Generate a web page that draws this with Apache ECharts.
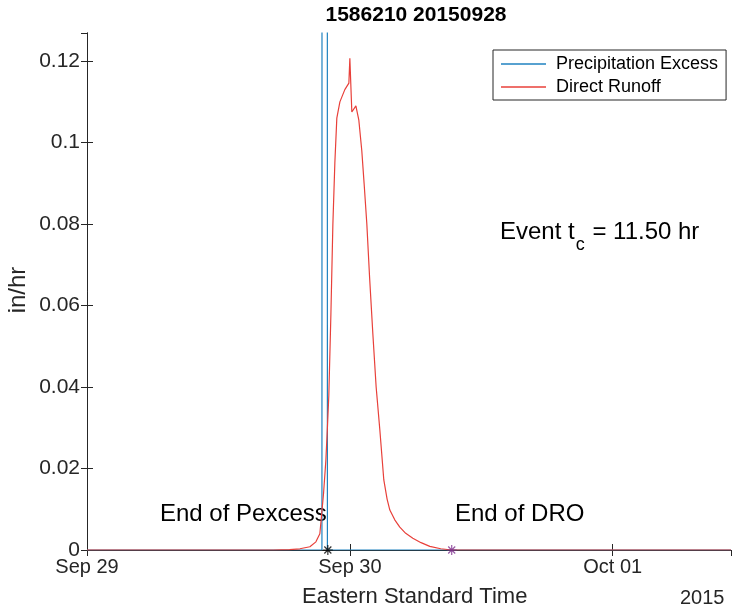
<!DOCTYPE html>
<html>
<head>
<meta charset="utf-8">
<script src="https://cdn.jsdelivr.net/npm/echarts@6/dist/echarts.min.js"></script>
<style>
  html, body { margin: 0; padding: 0; background: #fff; }
  #chart { width: 744px; height: 615px; }
</style>
</head>
<body>
<div id="chart"></div>
<script>
// hours since Sep 29 00:00 (EST)
var dayLabels = ['Sep 29', 'Sep 30', 'Oct 01'];
var yTickLabels = ['0', '0.02', '0.04', '0.06', '0.08', '0.1', '0.12'];

var pexHours = [0, 21.45, 21.47, 21.93, 21.95, 58.8];
var pexValues = [0, 0, 0.45, 0.45, 0, 0];

var droHours = [0, 17.0, 18.5, 19.44, 20.35, 20.9, 21.26, 21.4, 21.6, 21.81, 21.95, 22.08, 22.27, 22.45,
    22.63, 22.81, 23.09, 23.54, 23.91, 24.0, 24.18, 24.55, 24.82, 25.09, 25.3, 25.55, 25.8, 26.1,
    26.4, 26.74, 27.1, 27.4, 27.65, 28.1, 28.56, 29.1, 29.75, 30.5, 31.3, 32.3, 33.3, 58.8];
var droValues = [0, 0, 0.0001, 0.0003, 0.0008, 0.002, 0.004, 0.008, 0.014, 0.022, 0.03, 0.038, 0.058, 0.08,
    0.095, 0.106, 0.11, 0.113, 0.1146, 0.1207, 0.1075, 0.109, 0.1055, 0.098, 0.09, 0.08, 0.067, 0.053,
    0.04, 0.0294, 0.0172, 0.0125, 0.0098, 0.0074, 0.0056, 0.0041, 0.0029, 0.0018, 0.0009, 0.0003, 0, 0];

var endPexcess = [21.99, 0];
var endDro = [33.3, 0];

var xMax = 58.8, yMax = 0.1269;
var font = 'Liberation Sans, Arial, sans-serif';
var ink = '#262626';

var zip = function(xs, ys) {
    var out = [];
    for (var i = 0; i < xs.length; i++) out.push([xs[i], ys[i]]);
    return out;
};

var measure = function(text, size) {
    var ctx = document.createElement('canvas').getContext('2d');
    ctx.font = size + 'px ' + font;
    return ctx.measureText(text).width;
};

var star = 'path://M5,0L5,10M0,5L10,5M1.5,1.5L8.5,8.5M8.5,1.5L1.5,8.5';

// Event t_c label pieces
var evX = 500, evY = 232, evSize = 24;
var w1 = measure('Event t', evSize);
var wc = measure('c', 18);

var myChart = echarts.init(document.getElementById('chart'));
var option = {
    backgroundColor: '#fff',
    animation: false,
    title: {
        text: '1586210 20150928',
        left: 411, top: 0, textAlign: 'center',
        textStyle: { fontFamily: font, fontSize: 21, fontWeight: 'bold', color: '#000' }
    },
    legend: {
        left: 493, top: 50, orient: 'vertical',
        padding: [4, 8, 3, 8], itemGap: 3,
        itemWidth: 45, itemHeight: 1.5, icon: 'rect',
        borderColor: ink, borderWidth: 1, backgroundColor: '#fff',
        textStyle: { fontFamily: font, fontSize: 18, color: '#000', lineHeight: 20, padding: [0, 0, 0, 5] },
        data: ['Precipitation Excess', 'Direct Runoff']
    },
    grid: { left: 87, right: 13, top: 33, bottom: 65, containLabel: false },
    xAxis: [{
        type: 'value', min: 0, max: xMax, interval: 24,
        axisLine: { show: true, lineStyle: { color: ink } },
        axisTick: { show: true, inside: true, length: 6, lineStyle: { color: ink } },
        splitLine: { show: false },
        axisLabel: {
            fontFamily: font, fontSize: 20, color: ink, margin: 7,
            showMaxLabel: false,
            formatter: function(v) { return dayLabels[Math.round(v / 24)] || ''; }
        }
    }, {
        type: 'value', position: 'top', min: 0, max: xMax, interval: 24,
        axisLine: { show: true, lineStyle: { color: ink } },
        axisTick: { show: true, inside: true, length: 6, lineStyle: { color: ink } },
        splitLine: { show: false }, axisLabel: { show: false }
    }],
    yAxis: [{
        type: 'value', min: 0, max: yMax, interval: 0.02,
        axisLine: { show: true, lineStyle: { color: ink } },
        axisTick: { show: true, inside: true, length: 6, lineStyle: { color: ink } },
        splitLine: { show: false },
        axisLabel: {
            fontFamily: font, fontSize: 21, color: ink, margin: 7,
            showMaxLabel: false,
            formatter: function(v) {
                var i = Math.round(v / 0.02);
                return Math.abs(v - i * 0.02) < 1e-6 ? (yTickLabels[i] || '') : '';
            }
        }
    }, {
        type: 'value', position: 'right', min: 0, max: yMax, interval: 0.02,
        axisLine: { show: true, lineStyle: { color: ink } },
        axisTick: { show: true, inside: true, length: 6, lineStyle: { color: ink } },
        splitLine: { show: false }, axisLabel: { show: false }
    }],
    graphic: [
        { type: 'text', left: 302, top: 586, style: { text: 'Eastern Standard Time', font: '22px ' + font, fill: ink } },
        { type: 'text', left: 680, top: 588, style: { text: '2015', font: '20px ' + font, fill: ink } },
        { type: 'text', x: 18, y: 290, rotation: Math.PI / 2,
          style: { text: 'in/hr', font: '24px ' + font, fill: ink, textAlign: 'center', textVerticalAlign: 'middle' } },
        { type: 'text', x: 160, y: 514, style: { text: 'End of Pexcess', font: '24px ' + font, fill: '#000', textVerticalAlign: 'middle' } },
        { type: 'text', x: 455, y: 514, style: { text: 'End of DRO', font: '24px ' + font, fill: '#000', textVerticalAlign: 'middle' } },
        { type: 'text', x: evX, y: evY, style: { text: 'Event t', font: evSize + 'px ' + font, fill: '#000', textVerticalAlign: 'middle' } },
        { type: 'text', x: evX + w1 + 1, y: evY + 13, style: { text: 'c', font: '18px ' + font, fill: '#000', textVerticalAlign: 'middle' } },
        { type: 'text', x: evX + w1 + wc + 2, y: evY, style: { text: ' = 11.50 hr', font: evSize + 'px ' + font, fill: '#000', textVerticalAlign: 'middle' } }
    ],
    series: [{
        name: 'Precipitation Excess', type: 'line',
        data: zip(pexHours, pexValues),
        symbol: 'none', clip: true, z: 2,
        itemStyle: { color: '#1f82c0' },
        lineStyle: { color: '#1f82c0', width: 1.2 }
    }, {
        name: 'Direct Runoff', type: 'line',
        data: zip(droHours, droValues),
        symbol: 'none', clip: true, z: 3,
        itemStyle: { color: '#e8403a' },
        lineStyle: { color: '#e8403a', width: 1.2 }
    }, {
        name: 'End of Pexcess', type: 'scatter',
        data: [endPexcess], symbol: star, symbolSize: 10, z: 5,
        itemStyle: { color: 'none', borderColor: '#000', borderWidth: 1.2 }
    }, {
        name: 'End of DRO', type: 'scatter',
        data: [endDro], symbol: star, symbolSize: 10, z: 5,
        itemStyle: { color: 'none', borderColor: '#7E2F8E', borderWidth: 1.2 }
    }]
};
myChart.setOption(option);
</script>
</body>
</html>
